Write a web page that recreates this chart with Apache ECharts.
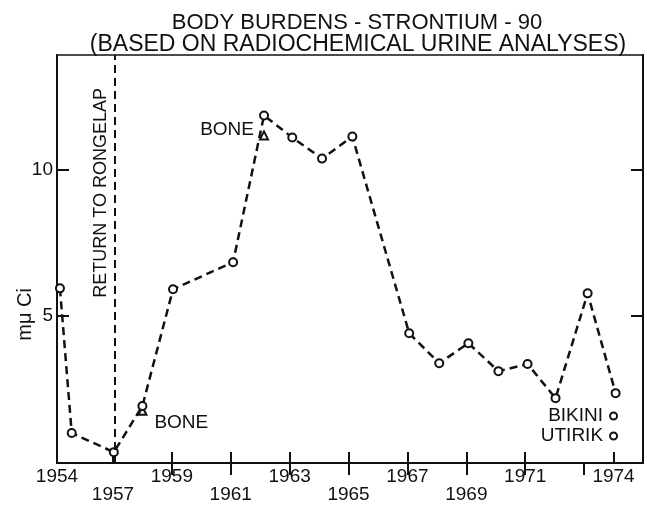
<!DOCTYPE html>
<html>
<head>
<meta charset="utf-8">
<script src="https://cdn.jsdelivr.net/npm/echarts@6/dist/echarts.min.js"></script>
<style>html,body{margin:0;padding:0;background:#fff}#c{width:647px;height:515px}</style>
</head>
<body>
<div id="c"></div>
<script>
// ---- data ----
const titleLine1 = 'BODY BURDENS - STRONTIUM - 90';
const titleLine2 = '(BASED ON RADIOCHEMICAL URINE ANALYSES)';
const yName = 'mμ Ci';
const returnLabel = 'RETURN TO RONGELAP';

// urine-based body burden (years as placed on the drawn axis)
const urineYears  = [1955.2, 1955.6, 1957.03, 1958.0, 1959.04, 1961.08, 1962.13, 1963.09, 1964.1, 1965.13, 1967.06, 1968.08, 1969.07, 1970.09, 1971.08, 1972.03, 1973.12, 1974.07];
const urineValues = [5.95, 1.02, 0.37, 1.94, 5.92, 6.84, 11.84, 11.09, 10.37, 11.12, 4.42, 3.40, 4.08, 3.13, 3.37, 2.21, 5.78, 2.38];

// bone-based estimates
const boneYears  = [1958.0, 1962.13];
const boneValues = [1.78, 11.16];
const boneLabel = 'BONE';

// comparison populations
const atollNames  = ['BIKINI', 'UTIRIK'];
const atollYears  = [1974.0, 1974.0];
const atollValues = [1.6, 0.92];

const returnYear = 1957.05;

// axis ticks / labels
const xLabelValues = [1955.1, 1957, 1959, 1961, 1963, 1965, 1967, 1969, 1971, 1974];
const xLabelTexts  = ['1954', '1957', '1959', '1961', '1963', '1965', '1967', '1969', '1971', '1974'];
const xLabelLower  = [false, true, false, true, false, true, false, true, false, false];
const xBottomTicks = [1957, 1959, 1961, 1963, 1965, 1967, 1969, 1971, 1974];
const xTopTicks    = [1959, 1961, 1963, 1965, 1967, 1969, 1971, 1973];
const yTicks = [5, 10];
const yLabels = ['5', '10'];

// ---- chart ----
const FONT = '"Liberation Sans", Arial, sans-serif';
const INK = '#111111';
const chart = echarts.init(document.getElementById('c'), null, {renderer: 'canvas'});

function zip(a, b) { return a.map((v, i) => [v, b[i]]); }

const labelStyle = {fontFamily: FONT, fontSize: 19, color: INK, opacity: 1, textBorderWidth: 0};

const option = {
  backgroundColor: '#fff',
  animation: false,
  title: [
    {text: titleLine1, left: 352, top: 7, textAlign: 'center',
     textStyle: {fontFamily: FONT, fontWeight: 'normal', fontSize: 22, color: INK}},
    {text: titleLine2, left: 353, top: 28, textAlign: 'center',
     textStyle: {fontFamily: FONT, fontWeight: 'normal', fontSize: 23, color: INK}}
  ],
  grid: {left: 57, right: 4, top: 55, bottom: 52, show: true, borderColor: INK, borderWidth: 1.5, backgroundColor: 'transparent'},
  xAxis: [
    {type: 'value', min: 1955.1, max: 1975.0, position: 'bottom',
     axisLine: {show: true, lineStyle: {color: INK, width: 2}},
     splitLine: {show: false},
     axisTick: {show: true, inside: true, length: 11, customValues: xBottomTicks, lineStyle: {color: INK, width: 2}},
     axisLabel: {show: true, customValues: xLabelValues, margin: 5, fontFamily: FONT, fontSize: 19, color: INK, lineHeight: 18,
       formatter: function (v) {
         let idx = -1;
         xLabelValues.forEach((x, i) => { if (Math.abs(x - v) < 0.01) idx = i; });
         if (idx < 0) return '';
         return xLabelLower[idx] ? '\n' + xLabelTexts[idx] : xLabelTexts[idx];
       }}},
    {type: 'value', min: 1955.1, max: 1975.0, position: 'top',
     axisLine: {show: true, lineStyle: {color: INK, width: 1.5}},
     splitLine: {show: false},
     axisTick: {show: true, inside: true, length: 12, customValues: xTopTicks, lineStyle: {color: INK, width: 2}},
     axisLabel: {show: false}}
  ],
  yAxis: [
    {type: 'value', min: 0, max: 13.9, position: 'left',
     axisLine: {show: true, lineStyle: {color: INK, width: 2}},
     splitLine: {show: false},
     axisTick: {show: true, inside: true, length: 12, customValues: yTicks, lineStyle: {color: INK, width: 2}},
     axisLabel: {show: true, customValues: yTicks, margin: 4, fontFamily: FONT, fontSize: 19, color: INK,
       formatter: v => { const i = yTicks.indexOf(v); return i >= 0 ? yLabels[i] : ''; }}},
    {type: 'value', min: 0, max: 13.9, position: 'right',
     axisLine: {show: true, lineStyle: {color: INK, width: 2}},
     splitLine: {show: false},
     axisTick: {show: true, inside: true, length: 12, customValues: yTicks, lineStyle: {color: INK, width: 2}},
     axisLabel: {show: false}}
  ],
  graphic: [
    {type: 'text', left: 92, top: 88, rotation: Math.PI / 2,
     style: {text: returnLabel, fontFamily: FONT, fontSize: 18, fill: INK}},
    {type: 'text', left: 15, top: 288, rotation: Math.PI / 2,
     style: {text: yName, fontFamily: FONT, fontSize: 20, fill: INK}}
  ],
  series: [
    {type: 'line', name: 'urine', xAxisIndex: 0, yAxisIndex: 0,
     data: zip(urineYears, urineValues),
     symbol: 'emptyCircle', symbolSize: 8, showSymbol: true, showAllSymbol: true,
     lineStyle: {color: INK, width: 2.5, type: [8, 5]},
     itemStyle: {color: INK, borderWidth: 2},
     markLine: {silent: true, symbol: ['none', 'none'], label: {show: false},
       lineStyle: {color: INK, width: 2, type: [8, 5]},
       data: [{xAxis: returnYear}]}},
    {type: 'scatter', name: 'bone', xAxisIndex: 0, yAxisIndex: 0,
     symbol: 'emptyTriangle', symbolSize: 8,
     itemStyle: {color: INK, borderWidth: 2, opacity: 1},
     data: [
       {value: [boneYears[0], boneValues[0]], label: {position: 'right', offset: [2, 12]}},
       {value: [boneYears[1], boneValues[1]], label: {position: 'left', offset: [0, -6]}}
     ],
     label: Object.assign({show: true, formatter: boneLabel}, labelStyle)},
    {type: 'scatter', name: 'atolls', xAxisIndex: 0, yAxisIndex: 0,
     symbol: 'emptyCircle', symbolSize: 7,
     itemStyle: {color: INK, borderWidth: 2, opacity: 1},
     data: atollNames.map((n, i) => ({name: n, value: [atollYears[i], atollValues[i]]})),
     label: Object.assign({show: true, position: 'left', distance: 6, formatter: p => p.name}, labelStyle)}
  ]
};
chart.setOption(option);
</script>
</body>
</html>
